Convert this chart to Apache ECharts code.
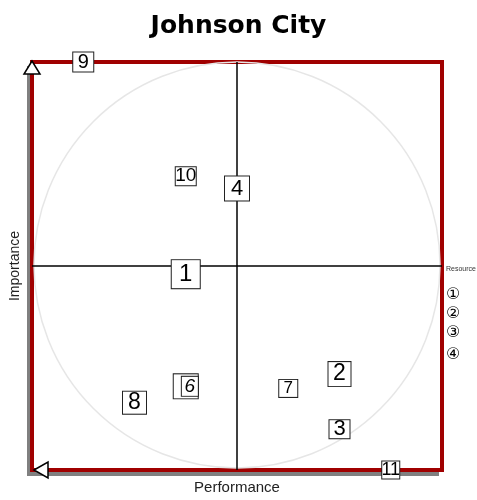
<!DOCTYPE html>
<html>
<head>
<meta charset="utf-8">
<script src="https://cdn.jsdelivr.net/npm/echarts@6/dist/echarts.min.js"></script>
<style>
  html, body { margin: 0; padding: 0; background: #fff; }
  #chart { width: 477px; height: 500px; }
</style>
</head>
<body>
<div id="chart"></div>
<script>
// data
const pointNames = ['1', '2', '3', '4', '5', '6', '7', '8', '9', '10', '11'];
const performance = [3.75, 7.5, 7.5, 5, 3.75, 3.85, 6.25, 2.5, 1.25, 3.75, 8.75];
const importance = [4.8, 2.35, 1, 6.9, 2.05, 2.05, 2, 1.65, 10, 7.2, 0];
const legendNames = ['①', '②', '③', '④'];

// label styles (font size, box width, box height)
const labelFont = [24, 23, 22, 22, 19, 19, 17, 23, 20, 19, 18];
const boxW = [30, 24, 22, 26, 26, 18, 20, 25, 22, 22, 19];
const boxH = [30, 26, 20, 26, 26, 21, 19, 24, 21, 20, 19];

const chart = echarts.init(document.getElementById('chart'));
const FONT = 'Liberation Sans, Arial, sans-serif';

const points = pointNames.map((n, i) => ({
  name: n,
  value: [performance[i], importance[i]],
  label: {
    fontSize: labelFont[i],
    width: boxW[i] - 2,
    height: boxH[i] - 2,
    lineHeight: boxH[i] - 2,
    fontStyle: n === '6' ? 'italic' : 'normal'
  }
}));

const hiddenAxis = {
  min: 0, max: 10,
  axisLine: { show: false }, axisTick: { show: false },
  axisLabel: { show: false }, splitLine: { show: false }
};

let option = {
  animation: false,
  title: {
    text: 'Johnson City',
    left: 'center',
    top: 9,
    textStyle: { fontFamily: 'DejaVu Sans', fontSize: 25, fontWeight: 'bold', color: '#000' }
  },
  grid: [
    // gray shadow, shifted left/down
    { left: 27, right: 38, top: 66, bottom: 24, show: true, backgroundColor: '#808080', borderWidth: 0 },
    // white plot with red frame
    { left: 31, right: 35, top: 62, bottom: 28, show: true, backgroundColor: '#fff',
      borderColor: '#a00000', borderWidth: 4 }
  ],
  xAxis: [
    Object.assign({ type: 'value', gridIndex: 0 }, hiddenAxis),
    Object.assign({ type: 'value', gridIndex: 1, name: 'Performance', nameLocation: 'middle', nameGap: 10,
      nameTextStyle: { fontFamily: FONT, fontSize: 15, color: '#222' } }, hiddenAxis)
  ],
  yAxis: [
    Object.assign({ type: 'value', gridIndex: 0 }, hiddenAxis),
    Object.assign({ type: 'value', gridIndex: 1, name: 'Importance', nameLocation: 'middle', nameGap: 10,
      nameTextStyle: { fontFamily: FONT, fontSize: 14, color: '#222' } }, hiddenAxis)
  ],
  series: [
    {
      type: 'scatter',
      xAxisIndex: 1,
      yAxisIndex: 1,
      symbolSize: 1,
      clip: false,
      itemStyle: { color: '#fff', opacity: 1 },
      emphasis: { disabled: true },
      label: {
        show: true,
        position: 'inside',
        formatter: '{b}',
        fontFamily: FONT,
        color: '#000',
        opacity: 1,
        textBorderWidth: 0,
        align: 'center',
        verticalAlign: 'middle',
        backgroundColor: '#fff',
        borderColor: '#222',
        borderWidth: 1,
        padding: 0
      },
      labelLayout: { hideOverlap: false },
      markLine: {
        silent: true,
        symbol: 'none',
        label: { show: false },
        lineStyle: { color: '#000', width: 1.5, type: 'solid' },
        data: [{ xAxis: 5 }, { yAxis: 5 }]
      },
      data: points,
      z: 5
    }
  ]
};
chart.setOption(option);

// decorations placed through the axes
const c = chart.convertToPixel({ gridIndex: 1 }, [5, 5]);
const o = chart.convertToPixel({ gridIndex: 1 }, [0, 0]);
const t = chart.convertToPixel({ gridIndex: 1 }, [10, 10]);
const r = (t[0] - o[0]) / 2 - 2;

const graphics = [
  { type: 'circle', z: 1, silent: true, shape: { cx: c[0], cy: c[1] - 1, r: r },
    style: { fill: 'none', stroke: '#e6e6e6', lineWidth: 1.5 } },
  // up arrow on importance axis
  { type: 'polygon', z: 100, shape: { points: [[o[0], t[1] - 1], [o[0] - 8, t[1] + 12], [o[0] + 8, t[1] + 12]] },
    style: { fill: '#fff', stroke: '#000', lineWidth: 1.5 } },
  // left arrow on performance axis
  { type: 'polygon', z: 100, shape: { points: [[o[0] + 2, o[1]], [o[0] + 16, o[1] - 8], [o[0] + 16, o[1] + 8]] },
    style: { fill: '#fff', stroke: '#000', lineWidth: 1.5 } },
  { type: 'text', z: 100, left: 446, top: 266,
    style: { text: 'Resource', fontFamily: FONT, fontSize: 7, fill: '#333' } }
];
const legendY = [296, 315, 334, 356];
legendNames.forEach((n, i) => {
  graphics.push({ type: 'text', z: 100, left: 446, top: legendY[i] - 9,
    style: { text: n, fontFamily: 'DejaVu Sans, sans-serif', fontSize: 16, fill: '#000' } });
});
chart.setOption({ graphic: graphics });
</script>
</body>
</html>
